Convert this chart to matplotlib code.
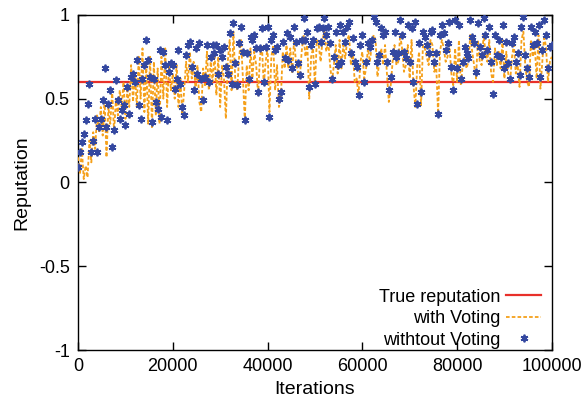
import numpy as np
import matplotlib
matplotlib.use("Agg")
import matplotlib.pyplot as plt
from matplotlib.ticker import FixedLocator, FuncFormatter

ITER_STEP = 400
TRUE_REPUTATION = 0.6

without_voting = [
    0.09, 0.18, 0.24, 0.29, 0.37, 0.47, 0.59, 0.18, 0.25, 0.38,
    0.18, 0.33, 0.38, 0.49, 0.68, 0.33, 0.47, 0.55, 0.21, 0.31,
    0.61, 0.49, 0.38, 0.43, 0.46, 0.34, 0.57, 0.41, 0.63, 0.65,
    0.60, 0.73, 0.46, 0.38, 0.62, 0.70, 0.85, 0.73, 0.63, 0.36,
    0.62, 0.48, 0.44, 0.79, 0.39, 0.78, 0.70, 0.37, 0.66, 0.71,
    0.70, 0.56, 0.62, 0.79, 0.59, 0.45, 0.40, 0.76, 0.82, 0.84,
    0.69, 0.55, 0.80, 0.65, 0.83, 0.62, 0.49, 0.63, 0.82, 0.60,
    0.75, 0.82, 0.77, 0.82, 0.65, 0.79, 0.75, 0.81, 0.69, 0.65,
    0.89, 0.59, 0.95, 0.71, 0.58, 0.83, 0.93, 0.78, 0.37, 0.77,
    0.62, 0.87, 0.85, 0.88, 0.80, 0.54, 0.80, 0.92, 0.60, 0.81,
    0.93, 0.39, 0.85, 0.88, 0.79, 0.81, 0.50, 0.54, 0.84, 0.74,
    0.89, 0.73, 0.87, 0.68, 0.93, 0.84, 0.71, 0.64, 0.85, 0.98,
    0.85, 0.90, 0.57, 0.82, 0.85, 0.59, 0.92, 0.93, 0.84, 0.92,
    0.98, 0.88, 0.93, 0.83, 0.62, 0.75, 0.90, 0.70, 0.94, 0.72,
    0.90, 0.84, 0.93, 0.96, 0.77, 0.86, 0.72, 0.69, 0.52, 0.82,
    0.88, 0.60, 0.72, 0.83, 0.81, 0.85, 0.99, 0.96, 0.72, 0.76,
    0.92, 0.88, 0.90, 0.72, 0.55, 0.63, 0.78, 0.90, 0.75, 0.77,
    0.97, 0.88, 0.78, 0.74, 0.94, 0.72, 0.92, 0.60, 0.96, 0.47,
    0.83, 0.54, 0.90, 0.87, 0.82, 0.77, 0.90, 0.91, 0.72, 0.77,
    0.41, 0.88, 0.94, 0.89, 0.79, 0.83, 0.96, 0.69, 0.55, 0.97,
    0.68, 0.94, 0.62, 0.72, 0.81, 0.77, 0.74, 0.97, 0.87, 0.83,
    0.66, 0.95, 0.81, 0.76, 0.98, 0.88, 0.79, 0.93, 0.72, 0.53,
    0.88, 0.76, 0.85, 0.75, 0.94, 0.68, 0.84, 0.71, 0.62, 0.83,
    0.87, 0.72, 0.77, 0.64, 0.93, 0.99, 0.76, 0.68, 0.63, 0.93,
    0.82, 0.90, 0.83, 0.94, 0.63, 0.79, 0.97, 0.88, 0.68, 0.81, 0.82,
]

with_voting = [
    0.15, 0.05, 0.20, 0.02, 0.10, 0.03, 0.25, 0.12, 0.30, 0.20,
    0.40, 0.30, 0.45, 0.28, 0.50, 0.15, 0.45, 0.35, 0.55, 0.30,
    0.50, 0.40, 0.55, 0.45, 0.60, 0.38, 0.55, 0.45, 0.70, 0.48,
    0.65, 0.45, 0.75, 0.50, 0.80, 0.42, 0.70, 0.35, 0.75, 0.33,
    0.72, 0.40, 0.68, 0.35, 0.75, 0.50, 0.80, 0.45, 0.70, 0.55,
    0.65, 0.50, 0.70, 0.45, 0.62, 0.40, 0.55, 0.72, 0.60, 0.78,
    0.62, 0.72, 0.55, 0.70, 0.48, 0.42, 0.68, 0.58, 0.78, 0.55,
    0.72, 0.60, 0.78, 0.52, 0.75, 0.45, 0.70, 0.62, 0.38, 0.72,
    0.85, 0.55, 0.90, 0.60, 0.55, 0.75, 0.85, 0.62, 0.37, 0.70,
    0.55, 0.80, 0.62, 0.78, 0.70, 0.52, 0.75, 0.82, 0.58, 0.72,
    0.80, 0.42, 0.75, 0.82, 0.55, 0.70, 0.45, 0.50, 0.78, 0.68,
    0.82, 0.68, 0.80, 0.65, 0.85, 0.72, 0.66, 0.62, 0.78, 0.88,
    0.75, 0.82, 0.50, 0.75, 0.80, 0.58, 0.85, 0.82, 0.72, 0.85,
    0.90, 0.78, 0.85, 0.70, 0.60, 0.70, 0.82, 0.65, 0.85, 0.68,
    0.82, 0.74, 0.85, 0.88, 0.70, 0.78, 0.60, 0.62, 0.52, 0.72,
    0.78, 0.62, 0.68, 0.80, 0.72, 0.82, 0.88, 0.85, 0.63, 0.72,
    0.80, 0.70, 0.82, 0.65, 0.48, 0.58, 0.72, 0.82, 0.70, 0.72,
    0.88, 0.80, 0.66, 0.70, 0.82, 0.62, 0.85, 0.58, 0.45, 0.70,
    0.78, 0.46, 0.82, 0.80, 0.75, 0.70, 0.85, 0.82, 0.66, 0.70,
    0.41, 0.78, 0.85, 0.80, 0.72, 0.75, 0.82, 0.65, 0.58, 0.80,
    0.60, 0.85, 0.58, 0.70, 0.75, 0.68, 0.72, 0.88, 0.78, 0.70,
    0.62, 0.85, 0.72, 0.70, 0.88, 0.78, 0.72, 0.85, 0.65, 0.60,
    0.80, 0.70, 0.78, 0.68, 0.85, 0.62, 0.78, 0.65, 0.60, 0.75,
    0.82, 0.65, 0.70, 0.57, 0.85, 0.90, 0.70, 0.60, 0.57, 0.85,
    0.75, 0.82, 0.62, 0.88, 0.56, 0.72, 0.88, 0.80, 0.60, 0.72, 0.75,
]

x_ticks = [0, 20000, 40000, 60000, 80000, 100000]
y_ticks = [-1, -0.5, 0, 0.5, 1]

plt.rcParams['font.family'] = ['Liberation Sans', 'DejaVu Sans']
plt.rcParams['axes.unicode_minus'] = False

fig = plt.figure(figsize=(5.87, 4.01), dpi=100)
ax = fig.add_axes([0.133, 0.127, 0.807, 0.836])

iters_b = np.arange(len(without_voting)) * ITER_STEP
iters_o = np.arange(len(with_voting)) * ITER_STEP

ax.axhline(TRUE_REPUTATION, color='#e8302a', lw=1.6, label='True reputation', zorder=2)
ax.plot(iters_o, with_voting, color='#f5a01a', lw=1.3, ls=(0, (2, 1.2)),
        label='with Voting', zorder=3)
ax.plot(iters_b, without_voting, ls='none', marker=(6, 2, 0), ms=5.5, mew=1.3,
        color='#3448a0', label='withtout Voting', zorder=4)

ax.set_xlim(0, 100000)
ax.set_ylim(-1, 1)
ax.xaxis.set_major_locator(FixedLocator(x_ticks))
ax.yaxis.set_major_locator(FixedLocator(y_ticks))
ax.yaxis.set_major_formatter(FuncFormatter(lambda v, p: f"{v:g}"))
ax.tick_params(direction='in', length=6, width=1, top=True, right=True,
               labelsize=13, pad=6)
for s in ax.spines.values():
    s.set_linewidth(1.0)

ax.set_xlabel('Iterations', fontsize=14, labelpad=4)
ax.set_ylabel('Reputation', fontsize=14, labelpad=6)

leg = ax.legend(loc='lower right', bbox_to_anchor=(0.99, -0.015), frameon=False,
                markerfirst=False, fontsize=13, handlelength=1.9,
                handletextpad=0.35, labelspacing=0.25, borderaxespad=0.0,
                borderpad=0.35)
for t in leg.get_texts():
    t.set_ha('right')

fig.savefig('out.png', dpi=100)
